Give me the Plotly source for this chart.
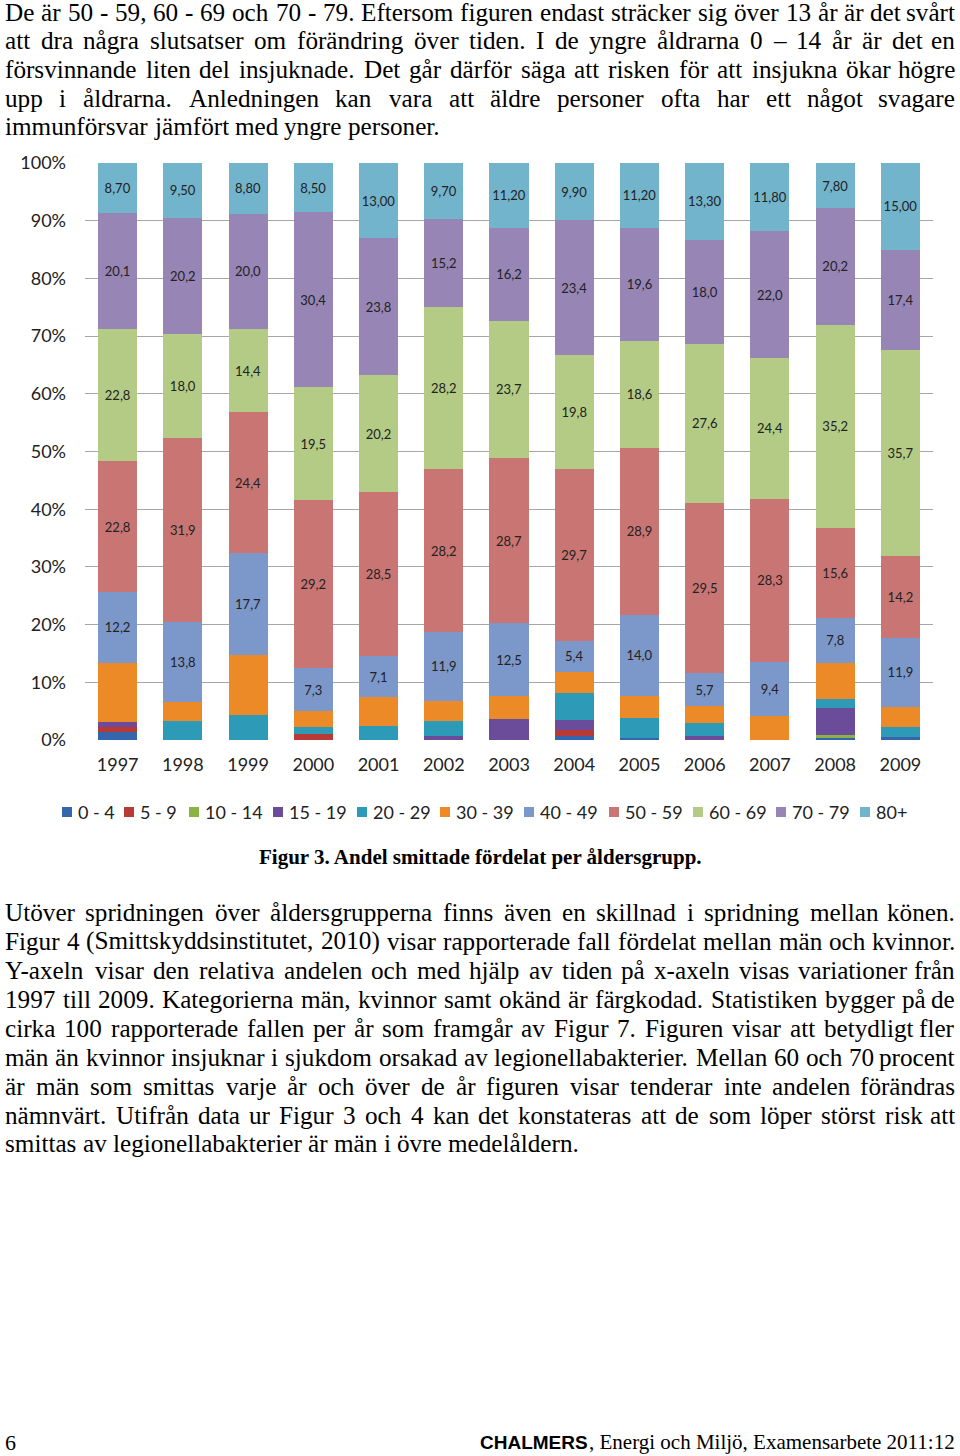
import plotly.graph_objects as go

# ---------------- data ----------------
years = ['1997', '1998', '1999', '2000', '2001', '2002', '2003',
         '2004', '2005', '2006', '2007', '2008', '2009']
groups = ['0 - 4', '5 - 9', '10 - 14', '15 - 19', '20 - 29', '30 - 39',
          '40 - 49', '50 - 59', '60 - 69', '70 - 79', '80+']

v_0_4 = [1.4, 0, 0, 0, 0, 0, 0, 0.7, 0.4, 0, 0, 0.4, 0.5]
v_5_9 = [0.9, 0, 0, 1.1, 0, 0, 0, 1.0, 0, 0, 0, 0, 0]
v_10_14 = [0, 0, 0, 0, 0, 0, 0, 0, 0, 0, 0, 0.5, 0]
v_15_19 = [0.8, 0, 0, 0, 0, 0.7, 3.7, 1.8, 0, 0.7, 0, 4.6, 0]
v_20_29 = [0, 3.3, 4.4, 1.2, 2.4, 2.6, 0, 4.6, 3.5, 2.2, 0, 1.6, 1.8]
v_30_39 = [10.3, 3.3, 10.3, 2.8, 5.0, 3.5, 4.0, 3.7, 3.8, 3.0, 4.1, 6.3, 3.5]
v_40_49 = [12.2, 13.8, 17.7, 7.3, 7.1, 11.9, 12.5, 5.4, 14.0, 5.7, 9.4, 7.8, 11.9]
v_50_59 = [22.8, 31.9, 24.4, 29.2, 28.5, 28.2, 28.7, 29.7, 28.9, 29.5, 28.3, 15.6, 14.2]
v_60_69 = [22.8, 18.0, 14.4, 19.5, 20.2, 28.2, 23.7, 19.8, 18.6, 27.6, 24.4, 35.2, 35.7]
v_70_79 = [20.1, 20.2, 20.0, 30.4, 23.8, 15.2, 16.2, 23.4, 19.6, 18.0, 22.0, 20.2, 17.4]
v_80 = [8.70, 9.50, 8.80, 8.50, 13.00, 9.70, 11.20, 9.90, 11.20, 13.30, 11.80, 7.80, 15.00]

series = [v_0_4, v_5_9, v_10_14, v_15_19, v_20_29, v_30_39,
          v_40_49, v_50_59, v_60_69, v_70_79, v_80]
labelled = [False] * 6 + [True] * 5
decimals = [1] * 10 + [2]

colors = ['#3566ac', '#b83a36', '#8cb245', '#6b4c9a', '#2d9ab8', '#eb8a26',
          '#7c97c9', '#c97573', '#b3cb85', '#9685b5', '#72b4cc']

yticks = list(range(0, 101, 10))
ytick_text = [f'{t}%' for t in yticks]

para_top = [
    "De är 50 - 59, 60 - 69 och 70 - 79. Eftersom figuren endast sträcker sig över 13 år är det svårt",
    "att dra några slutsatser om förändring över tiden. I de yngre åldrarna 0 – 14 år är det en",
    "försvinnande liten del insjuknade. Det går därför säga att risken för att insjukna ökar högre",
    "upp i åldrarna. Anledningen kan vara att äldre personer ofta har ett något svagare",
    "immunförsvar jämfört med yngre personer.",
]
para_bottom = [
    "Utöver spridningen över åldersgrupperna finns även en skillnad i spridning mellan könen.",
    "Figur 4 (Smittskyddsinstitutet, 2010) visar rapporterade fall fördelat mellan män och kvinnor.",
    "Y-axeln visar den relativa andelen och med hjälp av tiden på x-axeln visas variationer från",
    "1997 till 2009. Kategorierna män, kvinnor samt okänd är färgkodad. Statistiken bygger på de",
    "cirka 100 rapporterade fallen per år som framgår av Figur 7. Figuren visar att betydligt fler",
    "män än kvinnor insjuknar i sjukdom orsakad av legionellabakterier. Mellan 60 och 70 procent",
    "är män som smittas varje år och över de år figuren visar tenderar inte andelen förändras",
    "nämnvärt. Utifrån data ur Figur 3 och 4 kan det konstateras att de som löper störst risk att",
    "smittas av legionellabakterier är män i övre medelåldern.",
]
caption = "Figur 3. Andel smittade fördelat per åldersgrupp."
page_no = "6"
footer_bold = "CHALMERS"
footer_rest = ", Energi och Miljö, Examensarbete 2011:12"

# ---------------- layout geometry ----------------
W, H = 960, 1456
L, R, T, B = 85, 27, 163, 716
PW, PH = W - L - R, H - T - B


def px_x(px):
    return (px - L) / PW


def px_y(py):
    return (H - B - py) / PH


# Times / Liberation Serif advance widths (per 1000 em)
TW = {' ': 250, ',': 250, '.': 250, '-': 333, '–': 500, '(': 333, ')': 333, ':': 278,
      'a': 444, 'b': 500, 'c': 444, 'd': 500, 'e': 444, 'f': 333, 'g': 500, 'h': 500,
      'i': 278, 'j': 278, 'k': 500, 'l': 278, 'm': 778, 'n': 500, 'o': 500, 'p': 500,
      'q': 500, 'r': 333, 's': 389, 't': 278, 'u': 500, 'v': 500, 'w': 722, 'x': 500,
      'y': 500, 'z': 444, 'ä': 444, 'å': 444, 'ö': 500, 'ü': 500,
      'A': 722, 'B': 667, 'C': 667, 'D': 722, 'E': 611, 'F': 556, 'G': 722, 'H': 722,
      'I': 333, 'J': 389, 'K': 722, 'L': 611, 'M': 889, 'N': 722, 'O': 722, 'P': 556,
      'Q': 722, 'R': 667, 'S': 556, 'T': 611, 'U': 722, 'V': 722, 'W': 944, 'X': 722,
      'Y': 722, 'Z': 611, 'Ö': 722, 'Ä': 722, 'Å': 722}
for d in '0123456789':
    TW[d] = 500


def tw(s, size):
    return sum(TW.get(c, 500) for c in s) * size / 1000.0


annotations = []
shapes = []
SERIF = 'Liberation Serif'
BODY = 25.2


def ann(text, x_px, y_px, xanchor, font):
    annotations.append(dict(text=text, x=px_x(x_px), y=px_y(y_px), xref='paper', yref='paper',
                            xanchor=xanchor, yanchor='middle', showarrow=False, borderpad=0,
                            font=font))


def add_line(text, y_px, justify, size=BODY, x0=4, x1=956):
    words = text.split(' ')
    widths = [tw(w, size) for w in words]
    if justify and len(words) > 1:
        gap = (x1 - x0 - sum(widths)) / (len(words) - 1)
    else:
        gap = 250 * size / 1000.0
    x = x0
    f = dict(family=SERIF, size=size, color='#000')
    for i, (w, wd) in enumerate(zip(words, widths)):
        if justify and i == len(words) - 1 and len(words) > 1:
            ann(w, x1, y_px, 'right', f)
        else:
            ann(w, x, y_px, 'left', f)
        x += wd + gap


top_y = [12, 40, 69, 98, 126]
for i, line in enumerate(para_top):
    add_line(line, top_y[i], justify=(i < len(para_top) - 1))

bot_y = [912, 941, 970, 999, 1028, 1057, 1086, 1115, 1143]
for i, line in enumerate(para_bottom):
    add_line(line, bot_y[i], justify=(i < len(para_bottom) - 1))

ann('<b>' + caption + '</b>', 480, 857, 'center', dict(family=SERIF, size=21, color='#000'))

# footer
ann(page_no, 4, 1442, 'left', dict(family=SERIF, size=22, color='#000'))
FS = 21
rest_w = tw(footer_rest, FS)
ann(footer_rest, 956, 1442, 'right', dict(family=SERIF, size=FS, color='#000'))
ann('<b>' + footer_bold + '</b>', 956 - rest_w, 1442, 'right',
    dict(family='Liberation Sans', size=19, color='#000'))

# legend (key squares + labels, laid out like the original)
leg_sq_x = [62, 124, 189, 273, 357, 440, 524, 609, 693, 776, 860]
LEG_Y = 812
for g, col, sx in zip(groups, colors, leg_sq_x):
    shapes.append(dict(type='rect', xref='paper', yref='paper',
                       x0=px_x(sx), x1=px_x(sx + 10), y0=px_y(LEG_Y + 5), y1=px_y(LEG_Y - 5),
                       fillcolor=col, line=dict(width=0)))
    ann(g, sx + 15, LEG_Y, 'left', dict(family='Lato', size=18, color='#222'))

# ---------------- traces ----------------
fig = go.Figure()
for g, vals, lab, dec, col in zip(groups, series, labelled, decimals, colors):
    txt = None
    if lab:
        txt = [f'{v:.{dec}f}'.replace('.', ',') for v in vals]
    fig.add_trace(go.Bar(
        name=g, x=years, y=vals, marker=dict(color=col, line=dict(width=0)),
        text=txt, textposition='inside' if lab else 'none', insidetextanchor='middle',
        textangle=0, constraintext='none',
        textfont=dict(family='Lato', size=13, color='#222'),
        hoverinfo='name+y', showlegend=False,
    ))

fig.update_layout(
    width=W, height=H,
    margin=dict(l=L, r=R, t=T, b=B, pad=0),
    barmode='stack', bargap=0.4,
    paper_bgcolor='white', plot_bgcolor='white',
    font=dict(family='Lato', size=18, color='#222'),
    showlegend=False,
    annotations=annotations,
    shapes=shapes,
)
fig.update_yaxes(range=[0, 100], tickvals=yticks, ticktext=ytick_text, showgrid=True,
                 gridcolor='#a6a6a6', gridwidth=1, zeroline=False, showline=False,
                 ticks='', ticklabelstandoff=18, tickfont=dict(family='Lato', size=18, color='#222'))
fig.update_xaxes(showgrid=False, showline=False, zeroline=False, ticks='',
                 ticklabelstandoff=12, tickfont=dict(family='Lato', size=18, color='#222'))

fig.write_html("out.html",
               config={'displayModeBar': False},
               post_script="document.body.style.margin='0';document.body.style.overflow='hidden';")
